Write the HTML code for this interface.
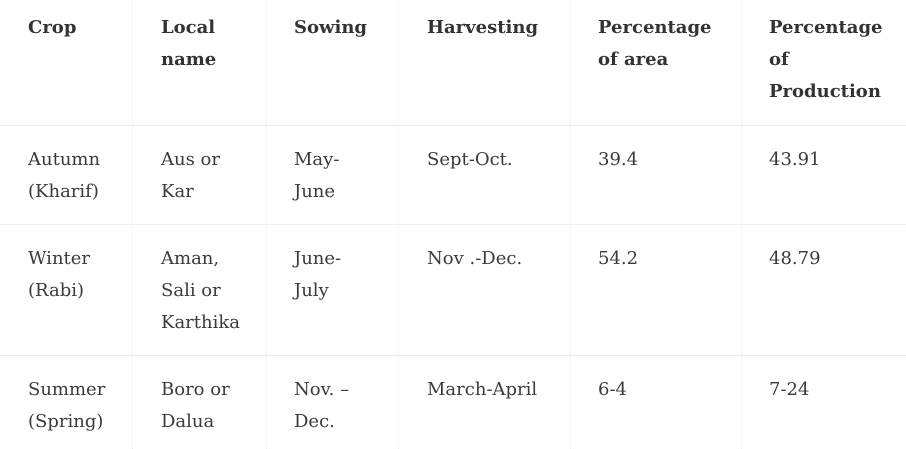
<!DOCTYPE html>
<html><head><meta charset="utf-8"><style>
html,body{margin:0;padding:0;background:#fff;}
#t{position:relative;width:906px;height:449px;overflow:hidden;font-family:"DejaVu Serif","Liberation Serif",serif;color:#3a3a3a;font-size:18px;line-height:32px;}
.c{position:absolute;white-space:nowrap;}
.h{font-weight:bold;color:#333;}
.hl{position:absolute;left:0;width:906px;height:1px;background:#ececec;}
.vl{position:absolute;top:0;height:449px;width:0;border-left:1px dotted #efefef;}
</style></head><body>
<div id="t">
<div class="hl" style="top:125px"></div>
<div class="hl" style="top:224px"></div>
<div class="hl" style="top:355px"></div>
<div class="vl" style="left:132px"></div>
<div class="vl" style="left:266px"></div>
<div class="vl" style="left:398px"></div>
<div class="vl" style="left:570px"></div>
<div class="vl" style="left:741px"></div>

<div class="c h" style="left:28px;top:12px">Crop</div>
<div class="c h" style="left:161px;top:12px">Local<br>name</div>
<div class="c h" style="left:294px;top:12px">Sowing</div>
<div class="c h" style="left:427px;top:12px">Harvesting</div>
<div class="c h" style="left:598px;top:12px">Percentage<br>of area</div>
<div class="c h" style="left:769px;top:12px">Percentage<br>of<br>Production</div>

<div class="c" style="left:28px;top:144px">Autumn<br>(Kharif)</div>
<div class="c" style="left:161px;top:144px">Aus or<br>Kar</div>
<div class="c" style="left:294px;top:144px">May-<br>June</div>
<div class="c" style="left:427px;top:144px">Sept-Oct.</div>
<div class="c" style="left:598px;top:144px">39.4</div>
<div class="c" style="left:769px;top:144px">43.91</div>

<div class="c" style="left:28px;top:243px">Winter<br>(Rabi)</div>
<div class="c" style="left:161px;top:243px">Aman,<br>Sali or<br>Karthika</div>
<div class="c" style="left:294px;top:243px">June-<br>July</div>
<div class="c" style="left:427px;top:243px">Nov .-Dec.</div>
<div class="c" style="left:598px;top:243px">54.2</div>
<div class="c" style="left:769px;top:243px">48.79</div>

<div class="c" style="left:28px;top:374px">Summer<br>(Spring)</div>
<div class="c" style="left:161px;top:374px">Boro or<br>Dalua</div>
<div class="c" style="left:294px;top:374px">Nov. –<br>Dec.</div>
<div class="c" style="left:427px;top:374px">March-April</div>
<div class="c" style="left:598px;top:374px">6-4</div>
<div class="c" style="left:769px;top:374px">7-24</div>
</div>
</body></html>
